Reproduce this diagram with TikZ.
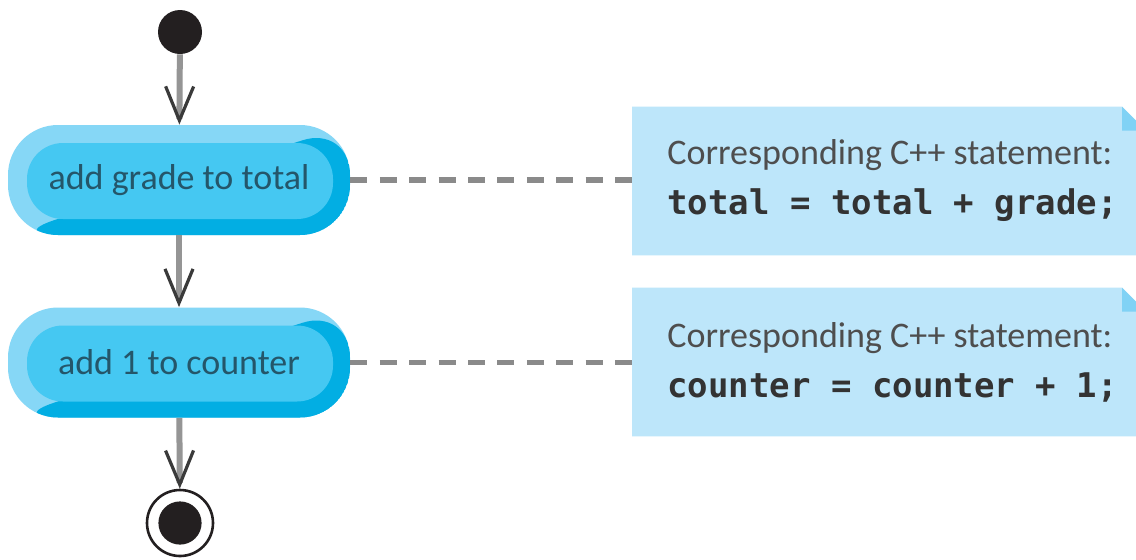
\documentclass[tikz,border=0pt]{standalone}
\usepackage{fontspec}
\usetikzlibrary{arrows.meta,calc,backgrounds}
\newfontfamily\actfont{Carlito}
\newfontfamily\codefont{DejaVu Sans Mono}

\definecolor{actlight}{HTML}{86D7F6}
\definecolor{actmid}{HTML}{45C8F2}
\definecolor{actdark}{HTML}{02AEE3}
\definecolor{acttext}{HTML}{24566A}
\definecolor{notefill}{HTML}{BDE6FA}
\definecolor{foldfill}{HTML}{80D2F5}
\definecolor{notetextc}{HTML}{4E4E4E}
\definecolor{codetextc}{HTML}{333333}
\definecolor{flowgray}{HTML}{959595}
\definecolor{tipdark}{HTML}{3A3A3A}
\definecolor{dotblack}{HTML}{231F20}
\definecolor{dashgray}{HTML}{8A8A8A}

\begin{document}
\begin{tikzpicture}[x=0.5pt,y=-0.5pt,
  action/.style={rectangle, rounded corners=25pt,
    minimum width=171pt, minimum height=55pt, inner sep=0pt,
    fill=actlight, text=acttext,
    font=\actfont\fontsize{18}{20}\selectfont,
    path picture={
      \fill[actdark] (path picture bounding box.south west)
        -- (path picture bounding box.north east)
        -- (path picture bounding box.south east) -- cycle;
      \fill[actmid, rounded corners=18pt]
        ([shift={(19,18)}]path picture bounding box.north west)
        rectangle ([shift={(-17,-16)}]path picture bounding box.south east);
    }},
  initial/.style={circle, fill=dotblack, minimum size=22pt, inner sep=0pt},
  final/.style={circle, draw=dotblack, line width=1.3pt, fill=white,
    minimum size=33pt, inner sep=0pt,
    path picture={\fill[dotblack] (path picture bounding box.center) circle (10.8pt);}},
  notebox/.style={rectangle, anchor=west, minimum height=74pt,
    inner xsep=17.5pt, inner ysep=0pt, align=left, text=notetextc,
    font=\actfont\fontsize{18}{25}\selectfont},
  code/.style={},
  flow/.style={draw=flowgray, line width=3pt,
    -{Straight Barb[length=17pt, width=14pt, line width=1.6pt, color=tipdark]}},
  noteline/.style={draw=dashgray, line width=2.6pt, dash pattern=on 8.5pt off 6.2pt}
]
\clip (0,0) rectangle (1136,559);

% activity flow
\node[initial] (start) at (180,32) {};
\node[action] (act1) at (179,180) {add grade to total};
\node[action] (act2) at (179,362.5) {add 1 to counter};
\node[final] (stop) at (180,523) {};

\draw[flow] (start) -- (act1);
\draw[flow] (act1) -- (act2);
\draw[flow] (act2) -- (stop);

% notes with the matching statements
\newcommand{\stmt}[1]{{\codefont\bfseries\fontsize{17}{25}\selectfont\color{codetextc}#1}}
\coordinate (edge) at (1146,0);
\node[notebox] (n1) at (632,181)
  {Corresponding C++ statement:\\\stmt{total = total + grade;}};
\node[notebox] (n2) at (632,362)
  {Corresponding C++ statement:\\\stmt{counter = counter + 1;}};

\begin{scope}[on background layer]
  \fill[white] (0,0) rectangle (1136,559);
  \foreach \n in {n1,n2}{
    \fill[notefill] (\n.north west) -- ($(\n.north west -| edge)+(-24,0)$)
      -- ($(\n.north west -| edge)+(0,24)$) -- (\n.south west -| edge)
      -- (\n.south west) -- cycle;
    \fill[foldfill] ($(\n.north west -| edge)+(-24,0)$)
      -- ($(\n.north west -| edge)+(-24,24)$)
      -- ($(\n.north west -| edge)+(0,24)$) -- cycle;
  }
\end{scope}

\draw[noteline] (act1.east) -- (act1.east -| n1.west);
\draw[noteline] (act2.east) -- (act2.east -| n2.west);
\end{tikzpicture}
\end{document}
